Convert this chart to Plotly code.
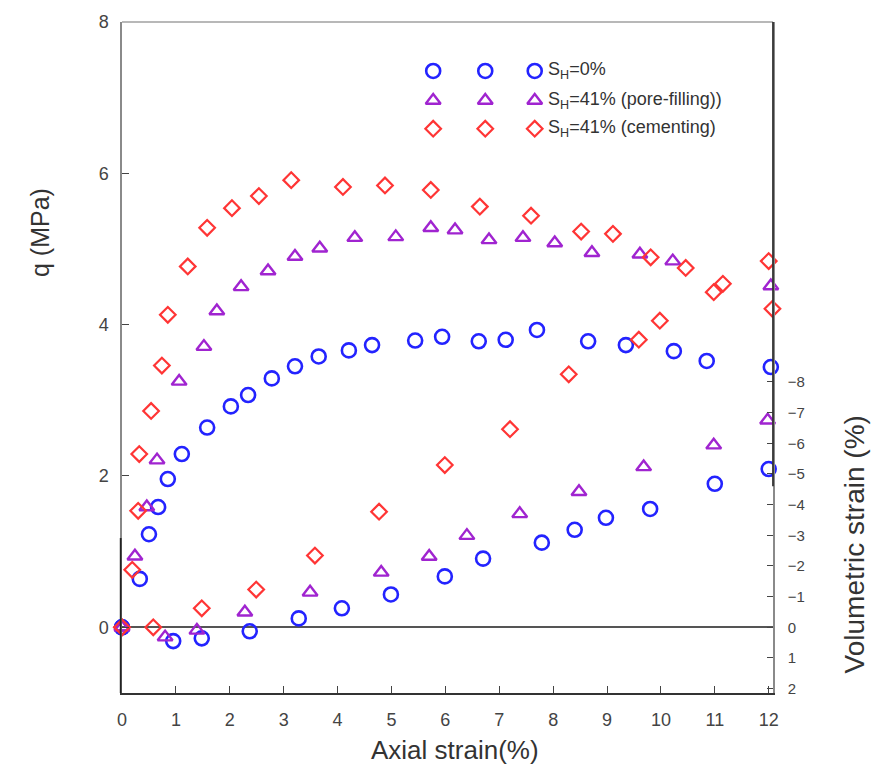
import plotly.graph_objects as go

# ---------------- data ----------------
# S_H = 0 %  : deviator stress q (MPa)
blue_q_x = [0.0, 0.33, 0.50, 0.67, 0.85, 1.11, 1.58, 2.02, 2.34, 2.78, 3.21, 3.65, 4.21, 4.64,
            5.44, 5.94, 6.62, 7.12, 7.70, 8.65, 9.35, 10.24, 10.85, 12.04]
blue_q_y = [0.0, 0.64, 1.23, 1.59, 1.96, 2.29, 2.64, 2.92, 3.07, 3.29, 3.45, 3.58, 3.66, 3.73,
            3.79, 3.84, 3.78, 3.80, 3.93, 3.78, 3.73, 3.65, 3.52, 3.44]
# S_H = 0 %  : volumetric strain (%)
blue_v_x = [0.0, 0.95, 1.48, 2.37, 3.28, 4.08, 4.99, 5.99, 6.70, 7.79, 8.40, 8.98, 9.80, 11.0, 12.0]
blue_v_y = [0.0, 0.45, 0.36, 0.13, -0.29, -0.62, -1.07, -1.66, -2.24, -2.76, -3.18, -3.57, -3.86,
            -4.68, -5.16]

# S_H = 41 % (pore-filling)
purp_q_x = [0.0, 0.24, 0.46, 0.65, 1.06, 1.52, 1.76, 2.21, 2.71, 3.21, 3.67, 4.32, 5.08, 5.73,
            6.18, 6.81, 7.44, 8.03, 8.72, 9.61, 10.22, 12.04]
purp_q_y = [0.0, 0.94, 1.59, 2.21, 3.25, 3.71, 4.18, 4.50, 4.71, 4.90, 5.01, 5.15, 5.16, 5.28,
            5.25, 5.12, 5.15, 5.08, 4.95, 4.93, 4.84, 4.51]
purp_v_x = [0.0, 0.80, 1.39, 2.28, 3.49, 4.81, 5.70, 6.40, 7.38, 8.48, 9.68, 10.98, 11.98]
purp_v_y = [0.0, 0.32, 0.10, -0.49, -1.14, -1.79, -2.31, -2.99, -3.70, -4.42, -5.23, -5.94, -6.75]

# S_H = 41 % (cementing)
red_q_x = [0.0, 0.19, 0.30, 0.32, 0.54, 0.74, 0.85, 1.22, 1.58, 2.04, 2.54, 3.14, 4.10, 4.88,
           5.73, 6.64, 7.59, 8.52, 9.11, 9.81, 10.46, 10.98, 11.15, 12.0, 12.07]
red_q_y = [0.0, 0.76, 1.54, 2.29, 2.86, 3.46, 4.13, 4.77, 5.28, 5.54, 5.70, 5.91, 5.82, 5.84,
           5.78, 5.56, 5.44, 5.23, 5.20, 4.89, 4.75, 4.43, 4.54, 4.84, 4.21]
red_v_x = [0.0, 0.58, 1.48, 2.49, 3.58, 4.77, 5.99, 7.20, 8.29, 9.59, 9.98]
red_v_y = [0.0, 0.0, -0.62, -1.23, -2.34, -3.77, -5.29, -6.46, -8.25, -9.38, -10.0]

series_labels = ["S<sub>H</sub>=0%", "S<sub>H</sub>=41% (pore-filling))", "S<sub>H</sub>=41% (cementing)"]
x_ticks = list(range(0, 13))
q_ticks = [0, 2, 4, 6, 8]
v_ticks = [-8, -7, -6, -5, -4, -3, -2, -1, 0, 1, 2]

# ---------------- styles ----------------
BLUE = "#2323ff"
PURP = "#a024d0"
RED = "#ff3535"
styles = [
    dict(symbol="circle-open", color=BLUE, size=14, width=2.6),
    dict(symbol="triangle-up-open", color=PURP, size=13, width=2.4),
    dict(symbol="diamond-open", color=RED, size=12, width=2.2),
]
FONT = "Liberation Sans, Arial, sans-serif"

fig = go.Figure()

def mk(st):
    return dict(symbol=st["symbol"], color=st["color"], size=st["size"],
                line=dict(color=st["color"], width=st["width"]))

sets = [(blue_q_x, blue_q_y, blue_v_x, blue_v_y),
        (purp_q_x, purp_q_y, purp_v_x, purp_v_y),
        (red_q_x, red_q_y, red_v_x, red_v_y)]

for (qx, qy, vx, vy), st, lab in zip(sets, styles, series_labels):
    fig.add_trace(go.Scatter(x=vx, y=vy, mode="markers", marker=mk(st), yaxis="y2",
                             showlegend=False, cliponaxis=False, name=lab))
    fig.add_trace(go.Scatter(x=qx, y=qy, mode="markers", marker=mk(st),
                             showlegend=False, cliponaxis=False, name=lab))

# ---------------- custom legend (three markers per row, as in the original) ----------------
leg_rows_y = [0.927, 0.883, 0.841]
leg_marker_x = [0.478, 0.558, 0.634]
leg_text_x = 0.652
for st, lab, ly in zip(styles, series_labels, leg_rows_y):
    fig.add_trace(go.Scatter(x=leg_marker_x, y=[ly] * 3, mode="markers", marker=mk(st),
                             xaxis="x3", yaxis="y3", showlegend=False, hoverinfo="skip",
                             cliponaxis=False))
    fig.add_annotation(x=leg_text_x, y=ly, xref="paper", yref="paper", text=lab,
                       showarrow=False, xanchor="left", yanchor="middle",
                       font=dict(family=FONT, size=18, color="#333"))

# ---------------- axes ----------------
fig.update_layout(
    width=881, height=778,
    margin=dict(l=122, r=108, t=19, b=85),
    plot_bgcolor="white", paper_bgcolor="white",
    showlegend=False,
    xaxis=dict(range=[0, 12.08], tickvals=x_ticks, ticks="inside", ticklen=7, tickcolor="#444",
               tickwidth=1.2, showline=True, linecolor="#333", linewidth=1.5, showgrid=False,
               zeroline=False, ticklabelstandoff=10,
               tickfont=dict(family=FONT, size=18, color="#444")),
    yaxis=dict(range=[-0.868, 8.0], tickvals=q_ticks, ticks="inside", ticklen=7, tickcolor="#444",
               tickwidth=1.2, showline=True, linecolor="#8a8a8a", linewidth=1.5, showgrid=False,
               zeroline=True, zerolinecolor="#555", zerolinewidth=1.5, ticklabelstandoff=8,
               tickfont=dict(family=FONT, size=18, color="#444")),
    yaxis2=dict(range=[2.143, -19.74], overlaying="y", side="right", tickvals=v_ticks,
                ticks="inside", ticklen=6, tickcolor="#444", tickwidth=1.2,
                showline=True, linecolor="#8a8a8a", linewidth=1.5, showgrid=False,
                zeroline=False, ticklabelstandoff=10,
                tickfont=dict(family=FONT, size=15, color="#444")),
    xaxis3=dict(range=[0, 1], overlaying="x", anchor="y3", visible=False, fixedrange=True),
    yaxis3=dict(range=[0, 1], overlaying="y", anchor="x3", visible=False, fixedrange=True),
)

# frame pieces: light top border, darker axis segments of the overlaid strain plot
fig.add_shape(type="line", xref="paper", yref="paper", x0=0, x1=1, y0=1, y1=1,
              line=dict(color="#a0a0a0", width=1.5))
fig.add_shape(type="line", xref="paper", yref="y", x0=-0.002, x1=-0.002, y0=1.18, y1=-0.868,
              line=dict(color="#222", width=1.8))
fig.add_shape(type="line", xref="paper", yref="y2", x0=1.0, x1=1.0, y0=-4.6, y1=-19.74,
              line=dict(color="#333", width=1.8))

# axis titles
fig.add_annotation(x=-0.126, y=0.687, xref="paper", yref="paper", text="q (MPa)",
                   textangle=-90, showarrow=False, xanchor="center", yanchor="middle",
                   font=dict(family=FONT, size=25, color="#333"))
fig.add_annotation(x=1.125, y=0.222, xref="paper", yref="paper", text="Volumetric strain (%)",
                   textangle=-90, showarrow=False, xanchor="center", yanchor="middle",
                   font=dict(family=FONT, size=28, color="#333"))
fig.add_annotation(x=0.5115, y=-0.0846, xref="paper", yref="paper", text="Axial strain(%)",
                   showarrow=False, xanchor="center", yanchor="middle",
                   font=dict(family=FONT, size=26, color="#333"))

fig.write_html("out.html")
